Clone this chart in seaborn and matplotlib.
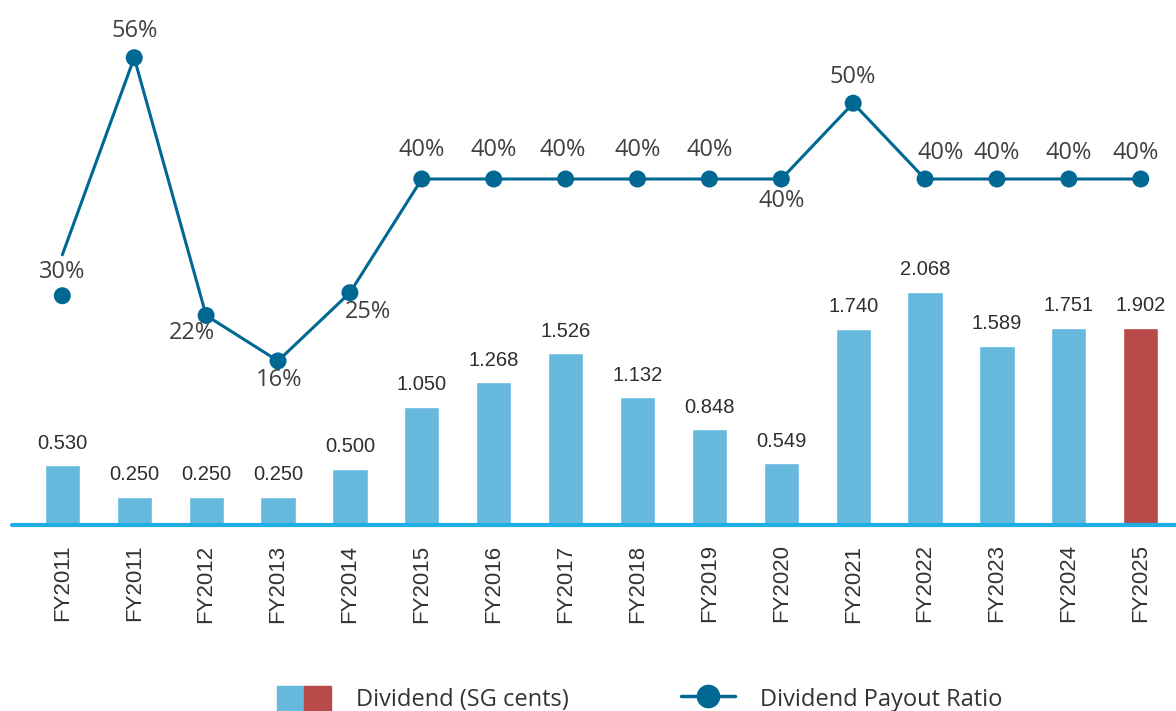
import pandas as pd
import matplotlib.pyplot as plt
import seaborn as sns
from matplotlib.patches import Patch
from matplotlib.lines import Line2D
from matplotlib.legend_handler import HandlerTuple

# data
years = ['FY2011', 'FY2011', 'FY2012', 'FY2013', 'FY2014', 'FY2015', 'FY2016', 'FY2017',
         'FY2018', 'FY2019', 'FY2020', 'FY2021', 'FY2022', 'FY2023', 'FY2024', 'FY2025']
dividend = [0.530, 0.250, 0.250, 0.250, 0.500, 1.050, 1.268, 1.526,
            1.132, 0.848, 0.549, 1.740, 2.068, 1.589, 1.751, 1.902]
# drawn bar heights (the source draws the FY2025 bar at about 1.75)
bar_height = [0.530, 0.250, 0.250, 0.250, 0.500, 1.050, 1.268, 1.526,
              1.132, 0.848, 0.549, 1.740, 2.068, 1.589, 1.751, 1.751]
payout_line = [30, 56, 22, 16, 25, 40, 40, 40, 40, 40, 40, 50, 40, 40, 40, 40]
# the first marker in the source sits below where its line segment ends
payout_marker = [24.6, 56, 22, 16, 25, 40, 40, 40, 40, 40, 40, 50, 40, 40, 40, 40]
payout_text = ['30%', '56%', '22%', '16%', '25%', '40%', '40%', '40%',
               '40%', '40%', '40%', '50%', '40%', '40%', '40%', '40%']

# label placement (offsets in points)
lab_dx = [0, 0, -10, 1, 13, 0, 0, -2, 0, 0, 0, 0, 11, 0, 0, -4]
lab_dy = [17, 19, -13, -14, -14, 21, 21, 21, 21, 21, -16, 19, 19, 19, 19, 19]

BLUE = '#66b9dd'
RED = '#b84a4a'
LINE = '#006892'
BASE = '#1eaee5'

bar_colors = [BLUE] * (len(dividend) - 1) + [RED]

df = pd.DataFrame({'idx': range(len(years)), 'bar': bar_height,
                   'payout': payout_line, 'marker': payout_marker})

sns.set_style('white')
plt.rcParams['font.family'] = ['Liberation Sans', 'DejaVu Sans']

fig = plt.figure(figsize=(11.76, 7.11), dpi=100)
ax = fig.add_axes([12 / 1176, 1 - 525 / 711, 1164 / 1176, 525 / 711])

sns.barplot(data=df, x='idx', y='bar', hue='idx', palette=bar_colors,
            width=0.49, legend=False, ax=ax, saturation=1)
for i, v in enumerate(dividend):
    ax.annotate(f'{v:.3f}', (i, bar_height[i]), xytext=(0, 9), textcoords='offset points',
                ha='center', va='bottom', fontsize=14.5, color='#2e2e2e')

ax.set_ylim(0, 525 / 112.7)
ax.set_xlim(-0.7, 15.49)
ax.axhline(0, color=BASE, lw=3, zorder=5, clip_on=False)
ax.set_xticks(range(len(years)))
ax.set_xticklabels(years, rotation=90, fontsize=16, color='#333333')
ax.tick_params(axis='x', length=0, pad=14)
ax.set_yticks([])
ax.set_xlabel('')
ax.set_ylabel('')
for s in ax.spines.values():
    s.set_visible(False)

ax2 = ax.twinx()
sns.lineplot(data=df, x='idx', y='payout', color=LINE, lw=2.2, ax=ax2)
sns.scatterplot(data=df, x='idx', y='marker', color=LINE, s=150, edgecolor='none',
                zorder=5, ax=ax2)
for i, t in enumerate(payout_text):
    ax2.annotate(t, (i, payout_marker[i]), xytext=(lab_dx[i], lab_dy[i]),
                 textcoords='offset points', ha='center', va='center',
                 fontsize=17, color='#404040', family=['Open Sans', 'DejaVu Sans'])
ax2.set_ylim(40 - 346 / 7.58, 40 + 179 / 7.58)
ax2.set_xlim(-0.7, 15.49)
ax2.set_yticks([])
ax2.set_ylabel('')
for s in ax2.spines.values():
    s.set_visible(False)

handles = [(Patch(color=BLUE), Patch(color=RED)),
           Line2D([0], [0], color=LINE, lw=2.5, marker='o', markersize=16)]
fig.legend(handles, ['Dividend (SG cents)', 'Dividend Payout Ratio'],
           handler_map={tuple: HandlerTuple(ndivide=None, pad=0)},
           loc='center', bbox_to_anchor=(0.544, 0.017), ncol=2, frameon=False,
           handlelength=2.3, handleheight=1.3, handletextpad=1.05, columnspacing=4.75,
           prop={'family': ['Open Sans', 'DejaVu Sans'], 'size': 17},
           labelcolor='#333333')

fig.savefig('out.png', dpi=100)
